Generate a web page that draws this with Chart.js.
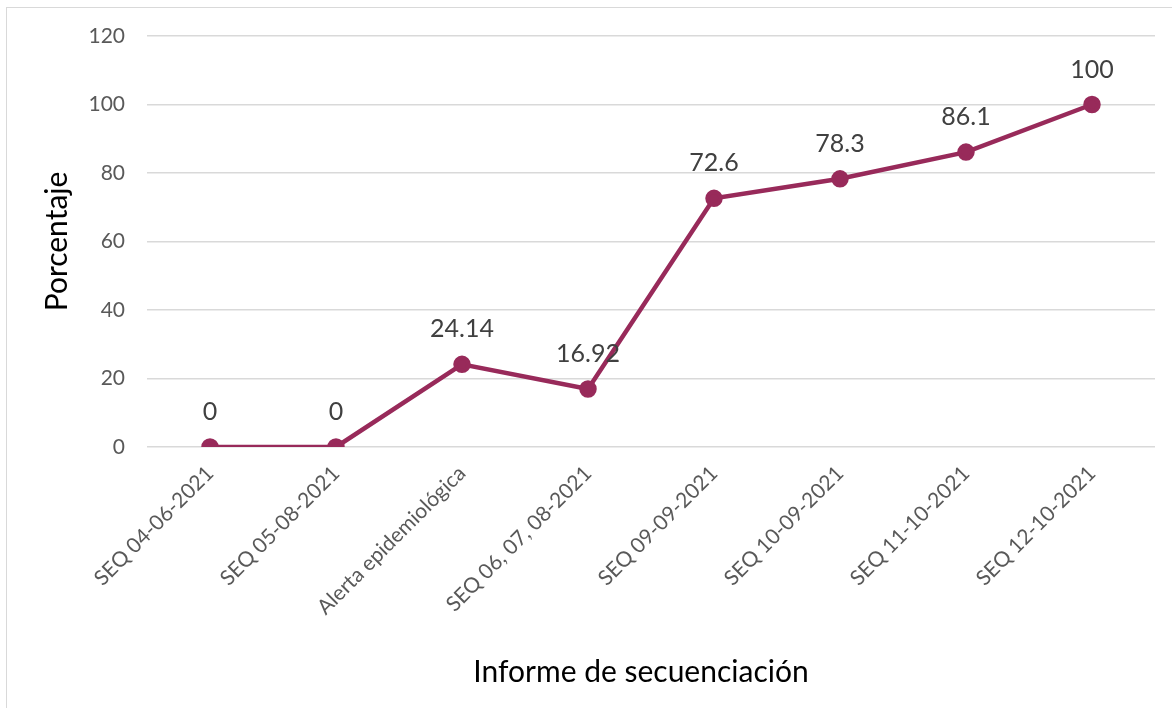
<!DOCTYPE html>
<html>
<head>
<meta charset="utf-8">
<script src="https://cdn.jsdelivr.net/npm/chart.js@4/dist/chart.umd.min.js"></script>
<style>
html,body{margin:0;padding:0;background:#fff;}
#wrap{position:relative;width:1172px;height:708px;}
</style>
</head>
<body>
<div id="wrap"><canvas id="c" width="1172" height="708"></canvas></div>
<script>
const categories = ["SEQ 04-06-2021","SEQ 05-08-2021","Alerta epidemiológica","SEQ 06, 07, 08-2021","SEQ 09-09-2021","SEQ 10-09-2021","SEQ 11-10-2021","SEQ 12-10-2021"];
const values = [0, 0, 24.14, 16.92, 72.6, 78.3, 86.1, 100];
const yTicks = [0, 20, 40, 60, 80, 100, 120];
const yTitle = "Porcentaje";
const xTitle = "Informe de secuenciación";

const FONT = "Lato, 'Open Sans', sans-serif";
const LINE = "#982A5A";

const frame = {
  id: 'frame',
  beforeDraw(chart) {
    const ctx = chart.ctx;
    ctx.save();
    ctx.strokeStyle = '#d9d9d9';
    ctx.lineWidth = 1;
    ctx.strokeRect(6.5, 7.5, 1200, 800);
    ctx.restore();
  }
};

const xTitlePlugin = {
  id: 'xTitlePlugin',
  afterDraw(chart) {
    const ctx = chart.ctx;
    ctx.save();
    ctx.font = "30px " + FONT;
    ctx.fillStyle = '#000000';
    ctx.textAlign = 'center';
    ctx.textBaseline = 'middle';
    ctx.fillText(xTitle, 641, 672);
    ctx.restore();
  }
};

const labels = {
  id: 'labels',
  afterDatasetsDraw(chart) {
    const ctx = chart.ctx;
    const meta = chart.getDatasetMeta(0);
    ctx.save();
    ctx.font = "25px " + FONT;
    ctx.fillStyle = '#404040';
    ctx.textAlign = 'center';
    ctx.textBaseline = 'middle';
    meta.data.forEach((pt, i) => {
      ctx.fillText(String(values[i]), pt.x, pt.y - 35);
    });
    ctx.restore();
  }
};

new Chart(document.getElementById('c'), {
  type: 'line',
  data: {
    labels: categories,
    datasets: [{
      data: values,
      borderColor: LINE,
      backgroundColor: LINE,
      borderWidth: 4.5,
      pointRadius: 6.5,
      pointHoverRadius: 6.5,
      pointBackgroundColor: LINE,
      pointBorderColor: LINE,
      tension: 0,
      fill: false
    }]
  },
  options: {
    responsive: false,
    animation: false,
    events: [],
    layout: { padding: { top: 36, left: 0, right: 17, bottom: 0 } },
    plugins: { legend: { display: false }, tooltip: { enabled: false } },
    scales: {
      x: {
        type: 'category',
        offset: true,
        grid: { display: false, drawTicks: false },
        border: { display: false },
        ticks: {
          maxRotation: 45, minRotation: 45,
          autoSkip: false,
          padding: 14,
          color: '#595959',
          font: { size: 21, family: FONT }
        },
        title: { display: false },
        afterFit(s) { s.height = 708 - 447; }
      },
      y: {
        min: 0, max: 120,
        afterBuildTicks(s) { s.ticks = yTicks.map(v => ({ value: v })); },
        grid: { color: '#d9d9d9', lineWidth: 1.5, drawTicks: false },
        border: { display: false },
        ticks: {
          padding: 22,
          color: '#595959',
          font: { size: 21, family: FONT }
        },
        title: {
          display: true, text: yTitle,
          color: '#000000',
          font: { size: 30, family: FONT },
          padding: 39
        },
        afterFit(s) { s.width = 147; }
      }
    }
  },
  plugins: [frame, labels, xTitlePlugin]
});
</script>
</body>
</html>
